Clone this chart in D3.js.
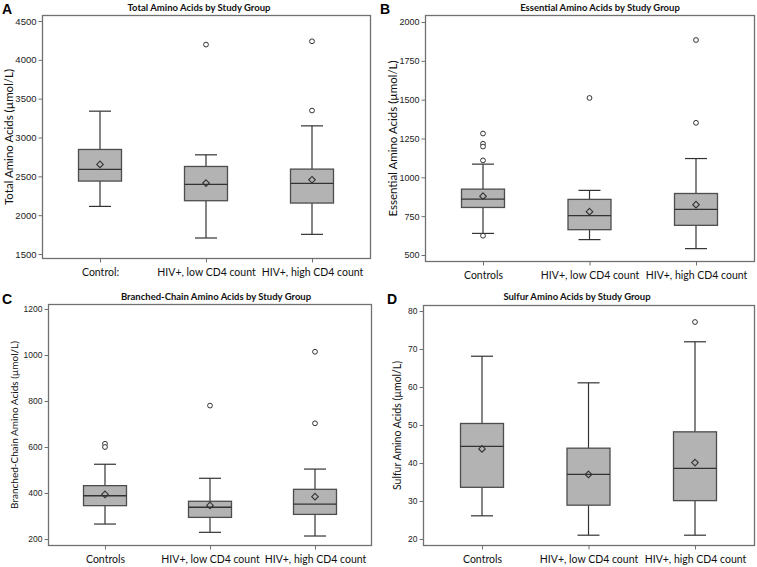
<!DOCTYPE html>
<html><head><meta charset="utf-8">
<script src="https://cdn.jsdelivr.net/npm/d3@7"></script>
<style>
body{margin:0;background:#fff;}
svg{display:block;}
</style></head>
<body>
<svg id="chart" width="757" height="567"></svg>
<script>
// ---- data ----
const groupsA = ["Controls", "HIV+, low CD4 count", "HIV+, high CD4 count"];
const groupsOther = ["Controls", "HIV+, low CD4 count", "HIV+, high CD4 count"];
const groupsAlabels = ["Control:", "HIV+, low CD4 count", "HIV+, high CD4 count"];

// [whiskerLow, Q1, median, Q3, whiskerHigh, mean]
const totalStats = [[2113, 2439, 2589, 2846, 3339, 2653],[1706, 2186, 2396, 2627, 2777, 2413],[1753, 2156, 2409, 2593, 3150, 2456]];
const totalOutliers = [[], [4196], [4239, 3347]];
const totalTicks = [1500, 2000, 2500, 3000, 3500, 4000, 4500];

const essentialStats = [[639, 806, 860, 924, 1085, 879],[599, 663, 753, 858, 916, 779],[541, 691, 794, 896, 1121, 824]];
const essentialOutliers = [[1282, 1216, 1198, 1109, 624], [1511], [1884, 1351]];
const essentialTicks = [500, 750, 1000, 1250, 1500, 1750, 2000];

const bcaaStats = [[265, 345, 388, 432, 525, 394],[229, 294, 338, 364, 464, 346],[213, 307, 352, 416, 504, 384]];
const bcaaOutliers = [[614, 600], [780], [1014, 703]];
const bcaaTicks = [200, 400, 600, 800, 1000, 1200];

const sulfurStats = [[26.1, 33.6, 44.4, 50.4, 68.1, 43.7],[21.0, 28.9, 37.0, 43.9, 61.1, 37.0],[21.0, 30.1, 38.6, 48.2, 71.9, 40.1]];
const sulfurOutliers = [[], [], [77.1]];
const sulfurTicks = [20, 30, 40, 50, 60, 70, 80];

const titles = ["Total Amino Acids by Study Group", "Essential Amino Acids by Study Group", "Branched-Chain Amino Acids by Study Group", "Sulfur Amino Acids by Study Group"];
const yTitles = ["Total Amino Acids (\u00b5mol/L)", "Essential Amino Acids (\u00b5mol/L)", "Branched-Chain Amino Acids (\u00b5mol/L)", "Sulfur Amino Acids (\u00b5mol/L)"];
const letters = ["A", "B", "C", "D"];

// ---- layout ----
const panels = [
  {letter:letters[0], title:titles[0], ytitle:yTitles[0], stats:totalStats, outliers:totalOutliers, ticks:totalTicks, cats:groupsA, catLabels:groupsAlabels,
   frame:{x0:42.5,x1:370.5,y0:15.5,y1:258.5}, yr:[254,21], dom:[1500,4500], cx:[100,312], titleX:199, titleY:11, letterX:2, letterY:14, ytX:9, tickFs:9.5, ytFs:11.5},
  {letter:letters[1], title:titles[1], ytitle:yTitles[1], stats:essentialStats, outliers:essentialOutliers, ticks:essentialTicks, cats:groupsOther, catLabels:groupsOther,
   frame:{x0:425.5,x1:754.5,y0:15.5,y1:261.5}, yr:[255,22], dom:[500,2000], cx:[483,696], titleX:600, titleY:11, letterX:380, letterY:14, ytX:393, tickFs:9, ytFs:11.5},
  {letter:letters[2], title:titles[2], ytitle:yTitles[2], stats:bcaaStats, outliers:bcaaOutliers, ticks:bcaaTicks, cats:groupsOther, catLabels:groupsOther,
   frame:{x0:48.5,x1:371.5,y0:304.5,y1:545.5}, yr:[539,309], dom:[200,1200], cx:[105,315], titleX:216, titleY:300, letterX:2, letterY:304, ytX:14, tickFs:8.5, ytFs:10},
  {letter:letters[3], title:titles[3], ytitle:yTitles[3], stats:sulfurStats, outliers:sulfurOutliers, ticks:sulfurTicks, cats:groupsOther, catLabels:groupsOther,
   frame:{x0:423.5,x1:754.5,y0:305.5,y1:545.5}, yr:[539,311], dom:[20,80], cx:[482,695], titleX:577, titleY:300, letterX:387, letterY:304, ytX:397, tickFs:8.5, ytFs:10.5}
];

const svg = d3.select("#chart");
const boxFill = "#b3b3b3", boxStroke = "#4d4d4d", lineCol = "#333", frameCol = "#707070";
const boxW = 43, capW = 22;

panels.forEach(p => {
  const g = svg.append("g");
  const y = d3.scaleLinear().domain(p.dom).range(p.yr);
  const x = d3.scalePoint().domain(p.cats).range(p.cx);

  // frame
  g.append("rect").attr("x", p.frame.x0).attr("y", p.frame.y0)
    .attr("width", p.frame.x1 - p.frame.x0).attr("height", p.frame.y1 - p.frame.y0)
    .attr("fill", "none").attr("stroke", frameCol).attr("stroke-width", 1.3);

  // y axis
  const ya = g.append("g").attr("transform", `translate(${p.frame.x0},0)`)
    .call(d3.axisLeft(y).tickValues(p.ticks).tickSize(4).tickPadding(2).tickFormat(d3.format("d")));
  ya.select(".domain").remove();
  ya.selectAll("line").attr("stroke", frameCol);
  ya.selectAll("text").attr("font-family", "Liberation Sans, Arial, sans-serif").attr("font-size", p.tickFs).attr("fill", "#222");

  // x axis
  const xa = g.append("g").attr("transform", `translate(0,${p.frame.y1})`)
    .call(d3.axisBottom(x).tickSize(4).tickPadding(6).tickFormat((d,i) => p.catLabels[i]));
  xa.select(".domain").remove();
  xa.selectAll("line").attr("stroke", frameCol);
  xa.selectAll("text").attr("font-family", "Lato, 'Open Sans', sans-serif").attr("font-size", 10.5).attr("fill", "#111");

  // boxes
  p.cats.forEach((c, i) => {
    const s = p.stats[i];
    const cx = x(c);
    const bg = g.append("g");
    // whiskers
    bg.append("line").attr("x1", cx).attr("x2", cx).attr("y1", y(s[3])).attr("y2", y(s[4])).attr("stroke", lineCol).attr("stroke-width", 1.2);
    bg.append("line").attr("x1", cx).attr("x2", cx).attr("y1", y(s[1])).attr("y2", y(s[0])).attr("stroke", lineCol).attr("stroke-width", 1.2);
    bg.append("line").attr("x1", cx - capW/2).attr("x2", cx + capW/2).attr("y1", y(s[4])).attr("y2", y(s[4])).attr("stroke", lineCol).attr("stroke-width", 1.2);
    bg.append("line").attr("x1", cx - capW/2).attr("x2", cx + capW/2).attr("y1", y(s[0])).attr("y2", y(s[0])).attr("stroke", lineCol).attr("stroke-width", 1.2);
    // box
    bg.append("rect").attr("x", cx - boxW/2).attr("y", y(s[3])).attr("width", boxW).attr("height", y(s[1]) - y(s[3]))
      .attr("fill", boxFill).attr("stroke", boxStroke).attr("stroke-width", 1.3);
    // median
    bg.append("line").attr("x1", cx - boxW/2).attr("x2", cx + boxW/2).attr("y1", y(s[2])).attr("y2", y(s[2])).attr("stroke", lineCol).attr("stroke-width", 1.3);
    // mean diamond
    const my = y(s[5]), r = 3.3;
    bg.append("path").attr("d", `M${cx},${my - r}L${cx + r},${my}L${cx},${my + r}L${cx - r},${my}Z`)
      .attr("fill", "none").attr("stroke", lineCol).attr("stroke-width", 1.1);
    // outliers
    bg.selectAll("circle.o").data(p.outliers[i]).enter().append("circle")
      .attr("cx", cx).attr("cy", d => y(d)).attr("r", 2.4)
      .attr("fill", "#fff").attr("stroke", lineCol).attr("stroke-width", 1);
  });

  // titles
  g.append("text").attr("x", p.titleX).attr("y", p.titleY).attr("text-anchor", "middle")
    .attr("font-family", "Lato, 'Open Sans', sans-serif").attr("font-weight", "bold").attr("font-size", 9.5).attr("fill", "#111")
    .text(p.title);
  g.append("text").attr("x", p.letterX).attr("y", p.letterY)
    .attr("font-family", "Liberation Sans, Arial, sans-serif").attr("font-weight", "bold").attr("font-size", 14).attr("fill", "#000")
    .text(p.letter);
  const cy = (p.frame.y0 + p.frame.y1) / 2;
  g.append("text").attr("transform", `translate(${p.ytX},${cy}) rotate(-90)`).attr("text-anchor", "middle").attr("dy", "0.35em")
    .attr("font-family", "Lato, 'Open Sans', sans-serif").attr("font-size", p.ytFs).attr("fill", "#111")
    .text(p.ytitle);
});
</script>
</body></html>
